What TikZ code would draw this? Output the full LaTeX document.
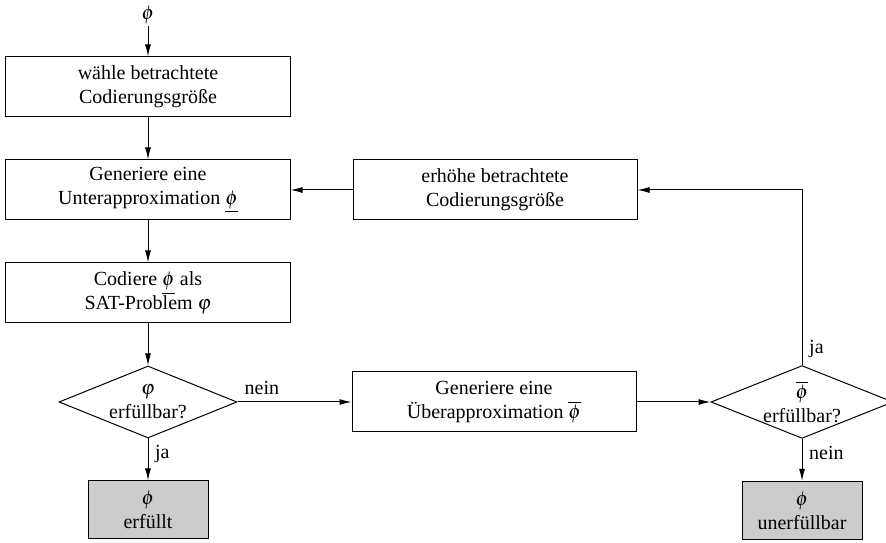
\documentclass[tikz,border=0pt]{standalone}
\usepackage{mathptmx}
\usepackage{fontspec}
\setmainfont{Liberation Serif}
\usetikzlibrary{arrows.meta,positioning,shapes.geometric}
\tikzset{
    block/.style={rectangle,draw,minimum width=142pt,minimum height=30pt,align=center},
    result/.style={rectangle,draw,fill=black!20,minimum width=60pt,minimum height=29pt,align=center},
    check/.style={diamond,draw,shape aspect=2.5,inner sep=0pt,minimum width=89pt,minimum height=36pt,align=center},
    pre/.style={->,line width=0.5pt},
    post/.style={<-,line width=0.5pt}
}

\begin{document}
\begin{tikzpicture}[node distance=21pt,line width=0.5pt,>={Latex[length=6pt,width=3pt]}]

                \useasboundingbox (-74pt,7.5pt) rectangle (369pt,-263.5pt);

                \node         (input) [inner sep=1pt] {$\phi$};

                \node[block]  (select size) [below=15pt of input] {w\"ahle betrachtete\\Codierungsgr\"o\ss e}
                    edge[post] (input);
                \node[block]  (under approx) [below=of select size] {Generiere eine\\Unterapproximation $\underline{\phi}$}
                    edge[post] (select size);
                \node[block]  (encode) [below=of under approx] {Codiere $\underline{\phi}$ als\\SAT-Problem $\varphi$}
                    edge[post] (under approx);
                \node[check]  (check under) [below=of encode] {$\varphi$\\erf\"ullbar?}
                    edge[post] (encode);
                \node[result] (sat) [below=of check under] {$\phi$\\erf\"ullt}
                    edge[post] node[below right,pos=1] {ja} (check under);

                \node[block]  (increase size) [right=31pt of under approx] {erh\"ohe betrachtete\\Codierungsgr\"o\ss e}
                    edge[pre] (under approx);
                \node[block]  (over approx) [right=57pt of check under] {Generiere eine\\\"Uberapproximation $\overline{\phi}$}
                    edge[post] node[above right,pos=1] {nein} (check under);
                \node[check]  (check over) [right=37pt of over approx] {$\overline{\phi}$\\erf\"ullbar?}
                    edge[post] (over approx);
                \node[result] (unsat) [below=of check over] {$\phi$\\unerf\"ullbar}
                    edge[post] node[below right,pos=1] {nein} (check over);

                % zurueck zur Erhoehung
                \draw[pre] (check over) |- node[above right,pos=0] {ja} (increase size);

            \end{tikzpicture}
\end{document}
